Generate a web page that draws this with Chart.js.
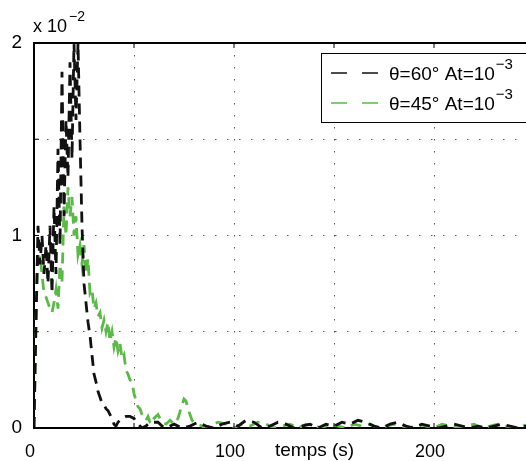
<!DOCTYPE html>
<html>
<head>
<meta charset="utf-8">
<script src="https://cdn.jsdelivr.net/npm/chart.js@4"></script>
<style>
  body { margin: 0; background: #fff; overflow: hidden; }
</style>
</head>
<body>
<canvas id="chart" width="540" height="461"></canvas>
<script>
// values are in units of 10^-2
const tBlack = [0, 1, 2, 3, 4, 5, 6, 7, 8, 9, 10, 11, 12, 13, 14, 15, 16, 17, 18, 19, 20, 21, 22, 23, 24, 25,
  26, 27, 28, 29, 30, 31, 32, 33, 34, 35, 36, 37, 38, 39, 40, 41, 42, 44, 46, 48, 50, 52, 54, 56, 58, 60, 62, 64,
  66, 70, 74, 78, 82, 86, 90, 94, 98, 102, 106, 110, 114, 118, 122, 126, 130, 134, 138, 142, 146, 150, 154, 158,
  162, 166, 170, 174, 178, 182, 186, 190, 194, 198, 202, 206, 210, 214, 218, 222, 226, 230, 234, 238, 242, 246, 250]
const yBlack = [0, 0.55, 1.05, 0.85, 1.0, 0.8, 0.95, 0.75, 1.05, 0.7, 1.15, 0.8, 1.45, 0.95, 1.85, 1.1, 1.6, 1.3, 1.9, 1.4, 2.0, 1.6, 2.0, 1.5, 1.05, 0.75,
  0.65, 0.55, 0.48, 0.38, 0.28, 0.24, 0.19, 0.16, 0.13, 0.12, 0.1, 0.09, 0.07, 0.05, 0.02, 0.01, 0.03, 0.05, 0.06, 0.06, 0.05, 0.02, 0.0, 0.01, 0.03, 0.03, 0.03, 0.01,
  0.0, 0.02, 0.0, 0.01, 0.03, 0.01, 0.0, 0.02, 0.03, 0.01, 0.04, 0.03, 0.0, 0.01, 0.03, 0.02, 0.0, 0.01, 0.02, 0.0, 0.02, 0.01, 0.03, 0.02,
  0.04, 0.03, 0.01, 0.0, 0.02, 0.03, 0.01, 0.0, 0.02, 0.01, 0.0, 0.01, 0.02, 0.01, 0.0, 0.01, 0.0, 0.01, 0.02, 0.01, 0.0, 0.01, 0.0]

const tGreen = [0, 0.5, 1, 1.5, 2, 3, 4, 5, 6, 7, 8, 9, 10, 11, 12, 13, 14, 15, 16, 17, 18, 19, 20, 21, 22, 23, 24, 25,
  26, 27, 28, 29, 30, 31, 32, 33, 34, 35, 36, 37, 38, 39, 40, 41, 42, 43, 44, 45, 46, 47, 48, 49, 50, 51, 52, 53, 54,
  55, 56, 57, 58, 59, 60, 62, 64, 66, 68, 70, 72, 74, 75, 76, 77, 78, 79, 80, 82, 84, 86, 88, 92, 96, 100, 104, 108,
  112, 116, 120, 124, 128, 132, 136, 140, 144, 148, 152, 156, 160, 164, 168, 172, 176, 180, 184, 188, 192, 196, 200,
  204, 208, 212, 216, 220, 224, 228, 232, 236, 240, 244, 248, 250]
const yGreen = [0, 0.3, 0.55, 0.75, 0.88, 0.9, 0.8, 0.7, 0.68, 0.65, 0.62, 0.6, 0.65, 0.72, 0.62, 0.85, 0.75, 1.15, 1.0, 1.25, 1.1, 1.2, 1.0, 1.1, 0.9, 0.95, 0.85, 0.95,
  0.8, 0.88, 0.7, 0.72, 0.62, 0.65, 0.58, 0.6, 0.52, 0.56, 0.5, 0.55, 0.45, 0.5, 0.42, 0.47, 0.4, 0.44, 0.36, 0.38, 0.3, 0.28, 0.25, 0.24, 0.18, 0.14, 0.11, 0.1, 0.07,
  0.05, 0.04, 0.06, 0.03, 0.02, 0.05, 0.07, 0.03, 0.02, 0.04, 0.02, 0.05, 0.12, 0.15, 0.14, 0.1, 0.07, 0.04, 0.03, 0.02, 0.01, 0.0, 0.01, 0.03, 0.02, 0.0, 0.02, 0.01,
  0.03, 0.02, 0.0, 0.01, 0.02, 0.0, 0.02, 0.01, 0.0, 0.02, 0.01, 0.0, 0.02, 0.01, 0.02, 0.0, 0.01, 0.02, 0.01, 0.0, 0.02, 0.01, 0.0,
  0.02, 0.01, 0.0, 0.01, 0.02, 0.0, 0.01, 0.02, 0.01, 0.0, 0.01, 0.02, 0.01]

const legendLabels = ["θ=60° At=10", "θ=45° At=10"]
const legendExps = ["−3", "−3"]
const xTitle = "temps (s)"
const yMultiplier = "x 10"
const yMultiplierExp = "−2"

const black = "#111111"
const green = "#5bb947"
const font = "'Liberation Sans', Arial, sans-serif"

function pairs(ts, ys) {
    return ts.map((t, i) => ({x: t, y: ys[i]}))
}

// frame, inner tick marks, axis title, multiplier and legend
const decorations = {
    id: "decorations",
    afterDraw(chart) {
        const {ctx, chartArea: {left, top, right, bottom}} = chart
        const xs = chart.scales.x
        const ys = chart.scales.y
        ctx.save()
        ctx.strokeStyle = "#000"
        ctx.lineWidth = 2
        ctx.beginPath()
        ctx.moveTo(left, top)
        ctx.lineTo(right, top)
        ctx.stroke()

        ctx.lineWidth = 1
        xs.ticks.forEach(t => {
            const px = xs.getPixelForValue(t.value)
            ctx.beginPath()
            ctx.moveTo(px, bottom); ctx.lineTo(px, bottom - 5)
            ctx.moveTo(px, top); ctx.lineTo(px, top + 5)
            ctx.stroke()
        })
        ys.ticks.forEach(t => {
            const py = ys.getPixelForValue(t.value)
            ctx.beginPath()
            ctx.moveTo(left, py); ctx.lineTo(left + 5, py)
            ctx.stroke()
        })

        ctx.fillStyle = "#000"
        ctx.textBaseline = "alphabetic"
        ctx.textAlign = "left"
        ctx.font = "19px " + font
        ctx.fillText(xTitle, 275, 456)

        ctx.font = "18px " + font
        ctx.fillText(yMultiplier, 33, 32)
        const mw = ctx.measureText(yMultiplier).width
        ctx.font = "14px " + font
        ctx.fillText(yMultiplierExp, 33 + mw + 2, 21)

        // legend box, its right side runs off the picture
        const bx = 321, by = 53, bw = 260, bh = 69
        ctx.fillStyle = "#fff"
        ctx.fillRect(bx, by, bw, bh)
        ctx.strokeStyle = "#000"
        ctx.lineWidth = 1
        ctx.strokeRect(bx + 0.5, by + 0.5, bw, bh)
        chart.data.datasets.forEach((ds, i) => {
            const ry = 73 + i * 30
            ctx.strokeStyle = ds.borderColor
            ctx.lineWidth = 1.5
            ctx.setLineDash([16, 15])
            ctx.beginPath()
            ctx.moveTo(331, ry)
            ctx.lineTo(378, ry)
            ctx.stroke()
            ctx.setLineDash([])
            ctx.fillStyle = "#000"
            ctx.font = "19px " + font
            ctx.fillText(legendLabels[i], 389, ry + 7)
            const w = ctx.measureText(legendLabels[i]).width
            ctx.font = "15px " + font
            ctx.fillText(legendExps[i], 389 + w + 1, ry - 4)
        })
        ctx.restore()
    }
}

const ctx = document.getElementById("chart").getContext("2d")
const myChart = new Chart(ctx, {
    type: "line",
    data: {
        datasets: [{
            label: legendLabels[0],
            data: pairs(tBlack, yBlack),
            borderColor: black,
            borderWidth: 2.8,
            borderDash: [11, 7],
            pointRadius: 0,
            tension: 0
        }, {
            label: legendLabels[1],
            data: pairs(tGreen, yGreen),
            borderColor: green,
            borderWidth: 2.8,
            borderDash: [11, 7],
            pointRadius: 0,
            tension: 0
        }]
    },
    options: {
        responsive: false,
        animation: false,
        layout: {padding: {top: 43, right: 6, left: 0, bottom: 0}},
        scales: {
            x: {
                type: "linear",
                min: 0,
                max: 250,
                afterFit(scale) {
                    scale.height = 33
                    scale.paddingLeft = 0
                    scale.paddingRight = 0
                },
                border: {display: true, color: "#000", width: 2, dash: [1.5, 10.5]},
                grid: {color: "#555", lineWidth: 1, drawTicks: false},
                ticks: {
                    stepSize: 50,
                    padding: 13,
                    labelOffset: -4,
                    maxRotation: 0,
                    color: "#000",
                    font: {family: font, size: 18},
                    callback: v => (v % 100 === 0 ? v : "")
                }
            },
            y: {
                min: 0,
                max: 2,
                afterFit(scale) {
                    scale.width = 34
                    scale.paddingTop = 0
                    scale.paddingBottom = 0
                },
                border: {display: true, color: "#000", width: 2, dash: [1.5, 10.5]},
                grid: {color: "#555", lineWidth: 1, drawTicks: false},
                ticks: {
                    stepSize: 0.5,
                    padding: 12,
                    color: "#000",
                    font: {family: font, size: 19},
                    callback: v => (Number.isInteger(v) ? v : "")
                }
            }
        },
        plugins: {
            legend: {display: false},
            tooltip: {enabled: false}
        }
    },
    plugins: [decorations]
})
</script>
</body>
</html>
